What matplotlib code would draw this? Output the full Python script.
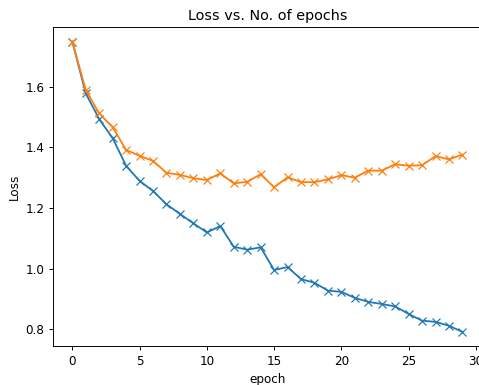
import matplotlib
matplotlib.use('Agg')
import matplotlib.pyplot as plt

epochs = list(range(30))
train_losses = [1.749, 1.578, 1.493, 1.430, 1.339, 1.289, 1.256, 1.212, 1.180, 1.149,
                1.119, 1.140, 1.072, 1.062, 1.070, 0.995, 1.005, 0.965, 0.953, 0.927,
                0.923, 0.903, 0.890, 0.883, 0.875, 0.850, 0.828, 0.824, 0.811, 0.791]
val_losses = [1.749, 1.589, 1.512, 1.466, 1.391, 1.372, 1.355, 1.316, 1.309, 1.298,
              1.292, 1.314, 1.281, 1.286, 1.311, 1.268, 1.301, 1.285, 1.285, 1.294,
              1.308, 1.300, 1.323, 1.323, 1.344, 1.339, 1.341, 1.371, 1.360, 1.376]

dpi = 86
fig = plt.figure(figsize=(479 / dpi, 385 / dpi), dpi=dpi)
ax = fig.add_axes([0.1102, 0.1003, 0.896, 0.8296])
ax.plot(epochs, train_losses, '-x')
ax.plot(epochs, val_losses, '-x')
ax.set_xlabel('epoch')
ax.set_ylabel('Loss')
ax.set_title('Loss vs. No. of epochs')
fig.savefig('out.png', dpi=dpi)
